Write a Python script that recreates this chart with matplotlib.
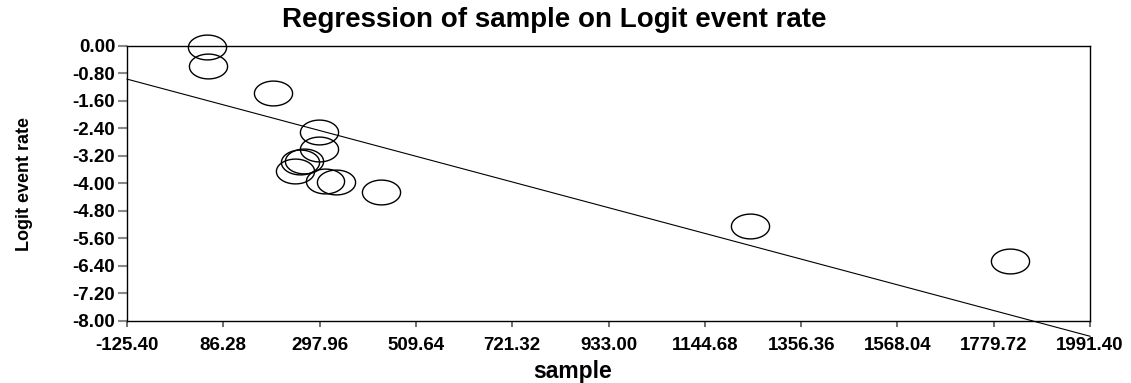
import numpy as np
import matplotlib
matplotlib.use("Agg")
import matplotlib.pyplot as plt
from matplotlib.path import Path

plt.rcParams['font.family'] = ['Liberation Sans', 'DejaVu Sans']

# studies
sample = [50, 52, 195, 297, 297, 264, 255, 244, 310, 334, 433, 1244, 1815]
logit_rate = [-0.03, -0.59, -1.37, -2.52, -3.00, -3.34, -3.39, -3.63, -3.92, -3.95, -4.24, -5.24, -6.26]

# fitted line
intercept = -1.413
slope = -0.003534

x_ticks = [-125.40, 86.28, 297.96, 509.64, 721.32, 933.00, 1144.68, 1356.36, 1568.04, 1779.72, 1991.40]
y_ticks = [0.00, -0.80, -1.60, -2.40, -3.20, -4.00, -4.80, -5.60, -6.40, -7.20, -8.00]

# wide ellipse marker (the original is stretched sideways)
t = np.linspace(0, 2 * np.pi, 60)
ellipse = Path(np.column_stack([np.cos(t), 0.65 * np.sin(t)]))

fig = plt.figure(figsize=(11.31, 3.83), dpi=100)
ax = fig.add_axes([0.1123, 0.1625, 0.8515, 0.718])

ax.plot(sample, logit_rate, linestyle='none', marker=ellipse, markersize=27.5,
        markerfacecolor='none', markeredgecolor='black', markeredgewidth=1.0,
        clip_on=False, zorder=3)

xl = np.array([x_ticks[0], x_ticks[-1]])
ax.plot(xl, intercept + slope * xl, color='black', linewidth=0.8, clip_on=False)

ax.set_xlim(x_ticks[0], x_ticks[-1])
ax.set_ylim(y_ticks[-1], y_ticks[0])
ax.set_xticks(x_ticks)
ax.set_yticks(y_ticks)
ax.set_xticklabels([f"{v:.2f}" for v in x_ticks], fontweight='bold', fontsize=13.5)
ax.set_yticklabels([f"{v:.2f}" for v in y_ticks], fontweight='bold', fontsize=13.5)
ax.tick_params(axis='y', length=6.5, width=1.5, color='#888888', pad=2)
ax.tick_params(axis='x', length=4, width=1.2, color='#555555', pad=8)
for s in ax.spines.values():
    s.set_linewidth(1.0)
    s.set_color('black')

fig.text(0.49, 0.93, "Regression of sample on Logit event rate", ha='center',
         va='baseline', fontsize=20, fontweight='bold')
fig.text(0.506, 0.014, "sample", ha='center', va='baseline', fontsize=16.5, fontweight='bold')
fig.text(0.022, 0.52, "Logit event rate", rotation=90, ha='center', va='center',
         fontsize=13, fontweight='bold')

fig.savefig("out.png", dpi=100)
